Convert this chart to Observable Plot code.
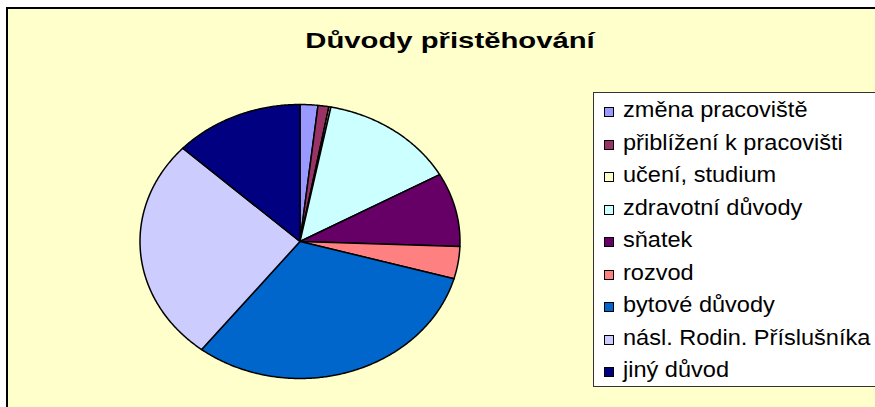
<!DOCTYPE html>
<html>
<head>
<meta charset="utf-8">
<script src="https://cdn.jsdelivr.net/npm/d3@7"></script>
<script src="https://cdn.jsdelivr.net/npm/@observablehq/plot@0.6"></script>
<style>
  html, body { margin: 0; padding: 0; background: #ffffff; overflow: hidden; }
  body { width: 875px; height: 407px; position: relative; font-family: "Liberation Sans", Arial, sans-serif; }
  #frame { position: absolute; left: 6px; top: 7px; width: 900px; height: 430px; background: #FFFFCC; border: 2px solid #000; box-sizing: border-box; }
  #title { position: absolute; left: 0; top: 30px; width: 900px; text-align: center; font-weight: bold; font-size: 22px; line-height: 22px; color: #000; transform: scaleX(1.33); transform-origin: 450px 0; white-space: nowrap; }
  #chart { position: absolute; left: 0; top: 0; }
  #legend { position: absolute; left: 593px; top: 92px; width: 300px; height: 295px; background: #fff; border: 1px solid #333; box-sizing: border-box; }
  .item { position: absolute; white-space: nowrap; }
  .sw { position: absolute; width: 10px; height: 10px; border: 1px solid #000; box-sizing: border-box; }
  .lab { position: absolute; font-size: 22px; line-height: 22px; color: #000; transform: scaleX(1.07); transform-origin: 0 0; white-space: nowrap; }
</style>
</head>
<body>
<div id="frame"></div>
<div id="title">Důvody přistěhování</div>
<div id="chart"></div>
<div id="legend"></div>
<script>
const title = "Důvody přistěhování";
const categories = ["změna pracoviště", "přiblížení k pracovišti", "učení, studium", "zdravotní důvody", "sňatek", "rozvod", "bytové důvody", "násl. Rodin. Příslušníka", "jiný důvod"];
const values = [1.8, 1.1, 0.2, 13.8, 8.7, 3.8, 31.2, 26.4, 13.1];
const colors = ["#9999FF", "#993366", "#FFFFCC", "#CCFFFF", "#660066", "#FF8080", "#0066CC", "#CCCCFF", "#000080"];

const rows = categories.map((c, i) => ({category: c, value: values[i]}));
const arcs = d3.pie().sort(null).value(d => d.value)(rows);

// Build slice outlines in unit coordinates (geometry only; angles from data)
const pts = [];
arcs.forEach(a => {
  const cat = a.data.category;
  pts.push({category: cat, x: 0, y: 0});
  const n = Math.max(2, Math.ceil((a.endAngle - a.startAngle) / (Math.PI / 360)));
  for (let k = 0; k <= n; k++) {
    const t = a.startAngle + (a.endAngle - a.startAngle) * k / n;
    pts.push({category: cat, x: Math.sin(t), y: Math.cos(t)});
  }
  pts.push({category: cat, x: 0, y: 0});
});

const chart = Plot.plot({
  width: 875,
  height: 407,
  margin: 0,
  style: {background: "transparent", overflow: "visible"},
  x: {domain: [-1, 1], range: [139.5, 459.5], axis: null},
  y: {domain: [-1, 1], range: [378, 104], axis: null},
  color: {domain: categories, range: colors},
  marks: [
    Plot.line(pts, {x: "x", y: "y", z: "category", fill: "category", stroke: "#000", strokeWidth: 1.5, strokeLinejoin: "round", curve: "linear"})
  ]
});
document.getElementById("chart").appendChild(chart);

const legend = document.getElementById("legend");
categories.forEach((c, i) => {
  const cy = 111 + i * 32.5 - 92;
  const sw = document.createElement("div");
  sw.className = "sw";
  sw.style.left = (603 - 593) + "px";
  sw.style.top = (cy - 5) + "px";
  sw.style.background = colors[i];
  legend.appendChild(sw);
  const lab = document.createElement("div");
  lab.className = "lab";
  lab.textContent = c;
  lab.style.left = (622 - 593) + "px";
  lab.style.top = (cy - 12.9) + "px";
  legend.appendChild(lab);
});
</script>
</body>
</html>
